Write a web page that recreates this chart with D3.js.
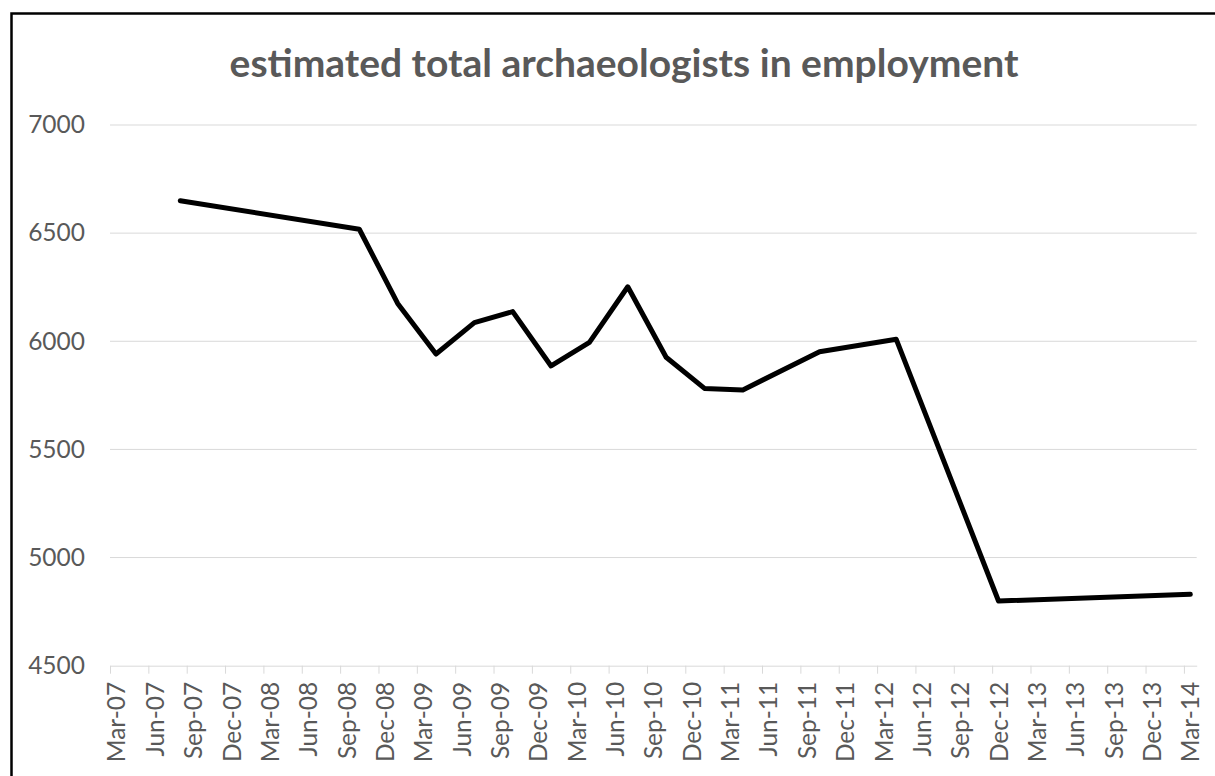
<!DOCTYPE html>
<html>
<head>
<meta charset="utf-8">
<script src="https://cdn.jsdelivr.net/npm/d3@7"></script>
<style>
  body { margin: 0; background: #fff; }
  svg { display: block; }
  .tick text { font-family: Lato, "Open Sans", sans-serif; fill: #595959; }
</style>
</head>
<body>
<div id="chart"></div>
<script>
// data
const pointMonths = ["Aug-07", "Oct-08", "Jan-09", "Apr-09", "Jul-09", "Oct-09", "Jan-10", "Apr-10",
                     "Jul-10", "Oct-10", "Jan-11", "Apr-11", "Oct-11", "Apr-12", "Dec-12", "Mar-14"];
const employed = [6650, 6518, 6175, 5941, 6086, 6137, 5886, 5995,
                  6252, 5926, 5782, 5775, 5952, 6009, 4799, 4830];
const xLabels = ["Mar-07", "Jun-07", "Sep-07", "Dec-07", "Mar-08", "Jun-08", "Sep-08", "Dec-08",
                 "Mar-09", "Jun-09", "Sep-09", "Dec-09", "Mar-10", "Jun-10", "Sep-10", "Dec-10",
                 "Mar-11", "Jun-11", "Sep-11", "Dec-11", "Mar-12", "Jun-12", "Sep-12", "Dec-12",
                 "Mar-13", "Jun-13", "Sep-13", "Dec-13", "Mar-14"];
const yTicks = [4500, 5000, 5500, 6000, 6500, 7000];

const W = 1215, H = 776;
const parse = d3.utcParse("%b-%y");
const start = parse("Mar-07");
const monthIdx = s => d3.utcMonth.count(start, parse(s));

const svg = d3.select("#chart").append("svg")
    .attr("width", W)
    .attr("height", H);

// outer frame (runs off the right and bottom of the picture)
svg.append("rect")
    .attr("x", 11.5).attr("y", 13.5)
    .attr("width", 1300).attr("height", 900)
    .attr("fill", "none")
    .attr("stroke", "#000")
    .attr("stroke-width", 2.5);

// month based scale like excel date axis (one slot per month)
const x = d3.scaleLinear().domain([0, 85]).range([110, 1196.7]);
const y = d3.scaleLinear().domain([4500, 7000]).range([665.7, 125]);
const half = (x(1) - x(0)) / 2;

svg.append("text")
    .attr("x", 624)
    .attr("y", 77)
    .attr("text-anchor", "middle")
    .attr("font-family", "Lato, sans-serif")
    .attr("font-weight", 700)
    .attr("font-size", 39)
    .attr("fill", "#595959")
    .text("estimated total archaeologists in employment");

// gridlines
svg.append("g")
    .selectAll("line")
    .data(yTicks.slice(1))
    .join("line")
    .attr("x1", x(0)).attr("x2", x(85))
    .attr("y1", d => y(d)).attr("y2", d => y(d))
    .attr("stroke", "#d9d9d9")
    .attr("stroke-width", 1);

// y axis labels
const g_yaxis = svg.append("g")
    .attr("transform", `translate(${x(0)},0)`)
    .call(d3.axisLeft(y).tickValues(yTicks).tickSize(0).tickPadding(25).tickFormat(d3.format("d")));
g_yaxis.select(".domain").remove();
g_yaxis.selectAll("text").attr("font-size", 24.5);

// x axis, ticks every 3 months, labels centred on the month slot
const g_xaxis = svg.append("g")
    .attr("transform", `translate(0,${y(4500)})`)
    .call(d3.axisBottom(x)
        .tickValues(d3.range(0, 85, 3))
        .tickSize(8)
        .tickSizeOuter(0)
        .tickFormat((d, i) => xLabels[i]));
g_xaxis.select(".domain").attr("stroke", "#d9d9d9");
g_xaxis.selectAll(".tick line").attr("stroke", "#d9d9d9");
g_xaxis.selectAll("text")
    .attr("font-size", 24.5)
    .attr("x", 0).attr("y", 0).attr("dy", "0.35em")
    .attr("text-anchor", "end")
    .attr("transform", `translate(${half},16) rotate(-90)`);

// the line
const line = d3.line()
    .x(d => x(monthIdx(d.m) + 0.5))
    .y(d => y(d.v));

svg.append("path")
    .datum(pointMonths.map((m, i) => ({m: m, v: employed[i]})))
    .attr("d", line)
    .attr("fill", "none")
    .attr("stroke", "#000")
    .attr("stroke-width", 5)
    .attr("stroke-linejoin", "round")
    .attr("stroke-linecap", "round");
</script>
</body>
</html>
